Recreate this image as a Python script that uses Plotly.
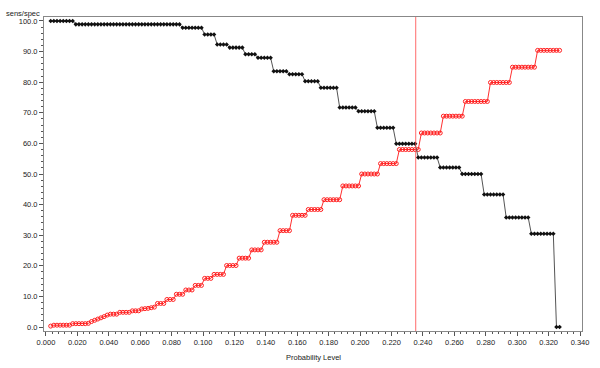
import plotly.graph_objects as go

# Probability levels (x)
prob_level = [
    0.003, 0.005, 0.007, 0.009, 0.011, 0.013, 0.015, 0.017, 0.019, 0.021,
    0.023, 0.025, 0.027, 0.029, 0.031, 0.033, 0.035, 0.037, 0.039, 0.041,
    0.043, 0.045, 0.047, 0.049, 0.051, 0.053, 0.055, 0.057, 0.059, 0.061,
    0.063, 0.065, 0.067, 0.069, 0.071, 0.073, 0.075, 0.077, 0.079, 0.081,
    0.083, 0.085, 0.087, 0.089, 0.091, 0.093, 0.095, 0.097, 0.099, 0.101,
    0.103, 0.105, 0.107, 0.109, 0.111, 0.113, 0.115, 0.117, 0.119, 0.121,
    0.123, 0.125, 0.127, 0.129, 0.131, 0.133, 0.135, 0.137, 0.139, 0.141,
    0.143, 0.145, 0.147, 0.149, 0.151, 0.153, 0.155, 0.157, 0.159, 0.161,
    0.163, 0.165, 0.167, 0.169, 0.171, 0.173, 0.175, 0.177, 0.179, 0.181,
    0.183, 0.185, 0.187, 0.189, 0.191, 0.193, 0.195, 0.197, 0.199, 0.201,
    0.203, 0.205, 0.207, 0.209, 0.211, 0.213, 0.215, 0.217, 0.219, 0.221,
    0.223, 0.225, 0.227, 0.229, 0.231, 0.233, 0.235, 0.237, 0.239, 0.241,
    0.243, 0.245, 0.247, 0.249, 0.251, 0.253, 0.255, 0.257, 0.259, 0.261,
    0.263, 0.265, 0.267, 0.269, 0.271, 0.273, 0.275, 0.277, 0.279, 0.281,
    0.283, 0.285, 0.287, 0.289, 0.291, 0.293, 0.295, 0.297, 0.299, 0.301,
    0.303, 0.305, 0.307, 0.309, 0.311, 0.313, 0.315, 0.317, 0.319, 0.321,
    0.323, 0.325, 0.327,
]

# Specificity (black), written as runs of equal values
specificity = ([100.0]*8 + [98.9]*34 + [97.8]*7 + [95.6]*4 + [92.3]*4 + [91.3]*5
               + [89.1]*4 + [88.0]*5 + [83.6]*5 + [82.6]*5 + [80.3]*5 + [78.2]*6
               + [71.7]*6 + [70.5]*6 + [65.1]*6 + [59.9]*7 + [55.4]*7 + [52.1]*7
               + [50.0]*7 + [43.3]*7 + [35.8]*8 + [30.5]*8 + [0.0]*2)

# Sensitivity (red)
sensitivity = ([0.3] + [0.6]*6 + [1.1]*5 + [1.2, 1.8, 2.2, 2.6, 3.0, 3.4, 3.9]
               + [4.2]*3 + [4.8]*4 + [5.3]*3 + [5.9, 6.0, 6.1, 6.3, 6.5]
               + [7.7]*3 + [9.0]*3 + [10.7]*3 + [12.1]*3 + [13.6]*3 + [15.9]*3
               + [17.2]*4 + [20.1]*4 + [22.5]*4 + [25.2]*4 + [27.7]*5 + [31.5]*4
               + [36.5]*5 + [38.4]*5 + [41.6]*6 + [46.1]*6 + [50.0]*6 + [53.4]*6
               + [58.0]*7 + [63.4]*7 + [68.9]*7 + [73.7]*8 + [79.9]*7 + [84.9]*8
               + [90.4]*8)

cutoff = 0.2354

FONT = "Liberation Sans, Arial, sans-serif"
TXT = "#222222"

fig = go.Figure()
fig.add_trace(go.Scatter(
    x=prob_level, y=sensitivity, mode="lines+markers",
    line=dict(color="#ff3030", width=1),
    marker=dict(symbol="circle-open", size=4, color="#ff2020", line=dict(width=1)),
    showlegend=False,
))
fig.add_trace(go.Scatter(
    x=prob_level, y=specificity, mode="lines+markers",
    line=dict(color="#555555", width=1),
    marker=dict(symbol="diamond", size=3.5, color="#111111"),
    showlegend=False,
))

fig.add_shape(type="line", x0=cutoff, x1=cutoff, xref="x", y0=0, y1=1, yref="paper",
              line=dict(color="rgba(255,80,80,0.85)", width=1))

axis_common = dict(
    showgrid=False, zeroline=False, showline=True, mirror=True,
    linecolor="#888888", linewidth=1, ticks="outside", ticklen=4,
    tickcolor="#555555", tickfont=dict(family=FONT, size=7.5, color=TXT),
)

fig.update_xaxes(range=[-0.00126, 0.34126], dtick=0.02, tick0=0, tickformat=".3f",
                 minor=dict(dtick=0.004, ticks="outside", ticklen=2, tickcolor="#555555"),
                 **axis_common)
fig.update_yaxes(range=[-1.3, 101.3], dtick=10, tick0=0, tickformat=".1f",
                 minor=dict(dtick=2, ticks="outside", ticklen=2, tickcolor="#555555"),
                 **axis_common)

fig.add_annotation(text="sens/spec", xref="paper", yref="paper",
                   x=(3 - 44) / 545, y=(331 - 13) / 314, xanchor="left", yanchor="middle",
                   showarrow=False, font=dict(family=FONT, size=7.5, color=TXT))
fig.add_annotation(text="Probability Level", xref="paper", yref="paper",
                   x=(317 - 44) / 545, y=(331 - 357) / 314, xanchor="center", yanchor="middle",
                   showarrow=False, font=dict(family=FONT, size=7.5, color=TXT))

fig.update_layout(
    width=600, height=368,
    margin=dict(l=44, r=11, t=17, b=37),
    paper_bgcolor="white", plot_bgcolor="white",
)

fig.write_html("out.html", config={"displayModeBar": False},
               post_script="document.body.style.margin='0';document.body.style.overflow='hidden';")
